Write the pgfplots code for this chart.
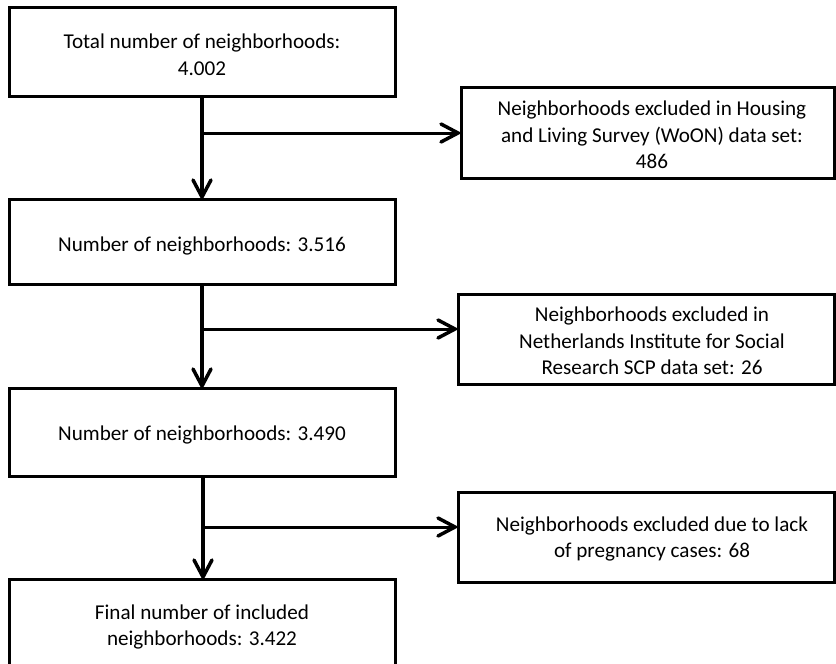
\documentclass[border=0pt]{standalone}
\usepackage{fontspec}
\setmainfont{Carlito}
\usepackage{pgfplots}
\pgfplotsset{compat=1.18}

\tikzset{lbl/.style={align=center, font=\fontsize{21.2}{26.8}\selectfont, inner sep=0pt}}

\begin{document}
\begin{tikzpicture}
\begin{axis}[
    scale only axis, width=836bp, height=664bp,
    xmin=0, xmax=836, ymin=0, ymax=664, y dir=reverse,
    hide axis,
]
% boxes (pixel coordinates, y down)
\addplot[black, line width=3bp] coordinates {(9,8) (395,8) (395,97) (9,97)} -- cycle;
\addplot[black, line width=3bp] coordinates {(9,199) (395,199) (395,284) (9,284)} -- cycle;
\addplot[black, line width=3bp] coordinates {(9,388) (395,388) (395,476) (9,476)} -- cycle;
\addplot[black, line width=3bp] coordinates {(9,579) (395,579) (395,720) (9,720)} -- cycle;
\addplot[black, line width=3bp] coordinates {(461,88) (834,88) (834,178) (461,178)} -- cycle;
\addplot[black, line width=3bp] coordinates {(458,294) (834,294) (834,384) (458,384)} -- cycle;
\addplot[black, line width=3bp] coordinates {(458,492) (834,492) (834,582) (458,582)} -- cycle;

% vertical connectors
\addplot[black, line width=4bp] coordinates {(202,97) (202,196)};
\addplot[black, line width=4bp] coordinates {(202,284) (202,385)};
\addplot[black, line width=4bp] coordinates {(203,476) (203,576)};
% their heads
\addplot[black, line width=3.5bp, line cap=round] coordinates {(193,180) (202,197) (211,180)};
\addplot[black, line width=3.5bp, line cap=round] coordinates {(193,369) (202,386) (211,369)};
\addplot[black, line width=3.5bp, line cap=round] coordinates {(194,560) (203,577) (212,560)};

% side connectors
\addplot[black, line width=3bp] coordinates {(202,133) (457,133)};
\addplot[black, line width=3bp] coordinates {(202,329) (454,329)};
\addplot[black, line width=3bp] coordinates {(203,527) (454,527)};
% their heads
\addplot[black, line width=3.5bp, line cap=round] coordinates {(441,124) (458,133) (441,142)};
\addplot[black, line width=3.5bp, line cap=round] coordinates {(438,320) (455,329) (438,338)};
\addplot[black, line width=3.5bp, line cap=round] coordinates {(438,518) (455,527) (438,536)};

% texts
\node[lbl] at (axis cs:202,55) {Total number of neighborhoods:\\4.002};
\node[lbl] at (axis cs:202,246) {Number of neighborhoods: 3.516};
\node[lbl] at (axis cs:202,435) {Number of neighborhoods: 3.490};
\node[lbl] at (axis cs:202,627) {Final number of included\\neighborhoods: 3.422};
\node[lbl] at (axis cs:652,135) {Neighborhoods excluded in Housing\\and Living Survey (WoON) data set:\\486};
\node[lbl] at (axis cs:652,341) {Neighborhoods excluded in\\Netherlands Institute for Social\\Research SCP data set: 26};
\node[lbl] at (axis cs:652,539) {Neighborhoods excluded due to lack\\of pregnancy cases: 68};
\end{axis}
\pgfresetboundingbox
\path (0,0) rectangle (836bp,664bp);
\end{tikzpicture}
\end{document}
